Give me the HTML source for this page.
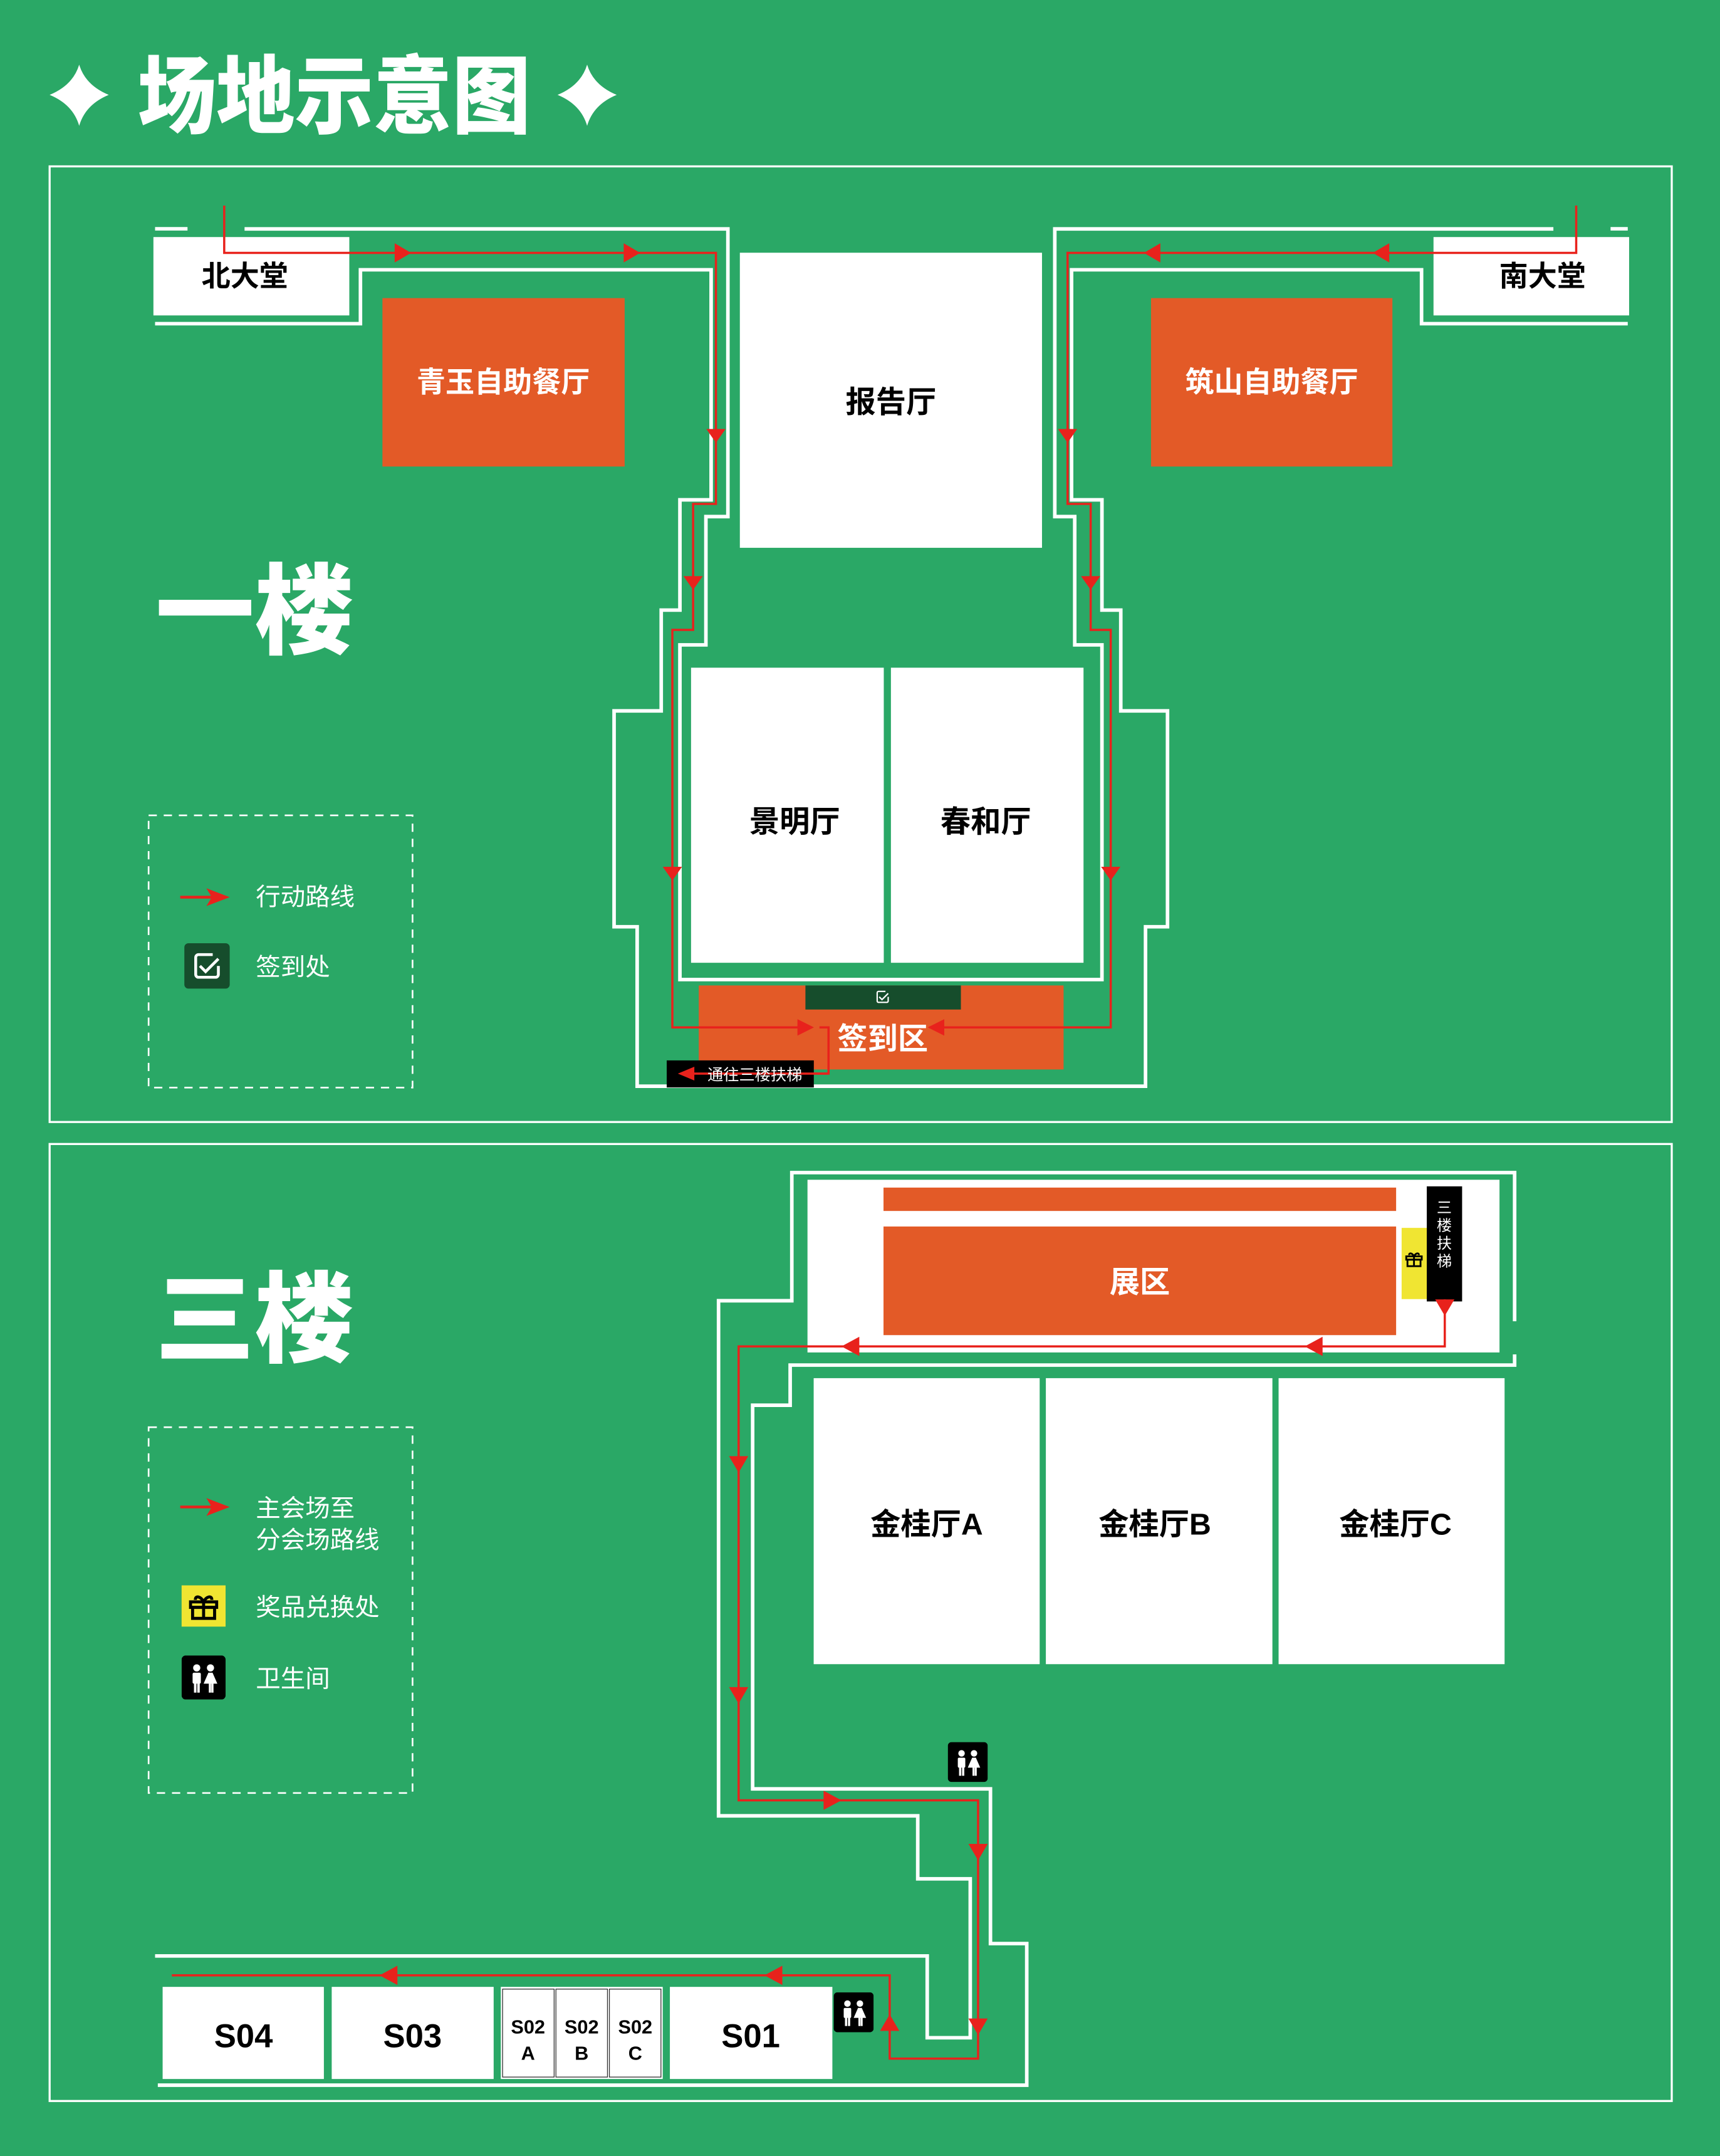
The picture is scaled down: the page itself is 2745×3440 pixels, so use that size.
<!DOCTYPE html>
<html><head><meta charset="utf-8">
<style>
html,body{margin:0;padding:0;background:#2aa866;}
svg{display:block;}
text{font-family:"Liberation Sans","Noto Sans CJK SC",sans-serif;}
.b{font-weight:700;}
</style></head>
<body>
<svg width="2745" height="3440" viewBox="0 0 1251 1568" xmlns="http://www.w3.org/2000/svg">
<defs>
<symbol id="wc" viewBox="0 0 32 32">
<rect x="0" y="0" width="32" height="32" rx="3" fill="#000"/>
<circle cx="11" cy="9" r="2.6" fill="#fff"/>
<rect x="8" y="12.5" width="6" height="8" rx="1" fill="#fff"/>
<rect x="9" y="19" width="1.8" height="8" fill="#fff"/><rect x="11.4" y="19" width="1.8" height="8" fill="#fff"/>
<circle cx="21" cy="9" r="2.6" fill="#fff"/>
<path d="M19.5 12.5 h3 l3.5 8 h-10 z" fill="#fff"/>
<rect x="19.8" y="20" width="1.6" height="7" fill="#fff"/><rect x="21.6" y="20" width="1.6" height="7" fill="#fff"/>
</symbol>
<symbol id="gift" viewBox="0 0 32 32">
<g fill="none" stroke="#000" stroke-width="2.2">
<rect x="6.5" y="13" width="19" height="4"/>
<rect x="8" y="17" width="16" height="8"/>
<line x1="16" y1="13" x2="16" y2="25"/>
<path d="M16 13 c-2-4-6-5-6-1.5 M16 13 c2-4 6-5 6-1.5"/>
</g>
</symbol>
<symbol id="chk" viewBox="0 0 32 32">
<path d="M20 8 H10 a2 2 0 0 0 -2 2 V22 a2 2 0 0 0 2 2 H22 a2 2 0 0 0 2 -2 V16" fill="none" stroke="#fff" stroke-width="2"/>
<path d="M11 16 l4 4 l9 -9" fill="none" stroke="#fff" stroke-width="2"/>
</symbol>
</defs>

<rect width="1251" height="1568" fill="#2aa866"/>

<!-- Title -->
<path d="M57.5 47 Q62 62 79 69 Q62 76 57.5 91.5 Q53 76 36 69 Q53 62 57.5 47Z" fill="#fff"/>
<path d="M427 47 Q431.5 62 448.5 69 Q431.5 76 427 91.5 Q422.5 76 405.5 69 Q422.5 62 427 47Z" fill="#fff"/>
<text x="100" y="92" font-size="62" class="b" fill="#fff" textLength="286" lengthAdjust="spacingAndGlyphs" style="font-weight:900">场地示意图</text>

<!-- Frames -->
<rect x="36" y="121" width="1180" height="695" fill="none" stroke="#fff" stroke-width="1.5"/>
<rect x="36" y="832" width="1180" height="696" fill="none" stroke="#fff" stroke-width="1.5"/>

<!-- ===== FLOOR 1 ===== -->
<text x="113" y="470" font-size="72" class="b" fill="#fff" style="font-weight:900">一楼</text>

<rect x="111.5" y="172.4" width="142.5" height="57" fill="#fff"/>
<text x="178" y="208" font-size="21" class="b" text-anchor="middle" fill="#000">北大堂</text>
<rect x="1042.7" y="172.4" width="142.3" height="57" fill="#fff"/>
<text x="1122" y="208" font-size="21" class="b" text-anchor="middle" fill="#000">南大堂</text>
<rect x="278.1" y="216.8" width="176.2" height="122.5" fill="#e35a27"/>
<text x="366" y="285" font-size="21" class="b" text-anchor="middle" fill="#fff">青玉自助餐厅</text>
<rect x="837.2" y="216.8" width="175.6" height="122.5" fill="#e35a27"/>
<text x="925" y="285" font-size="21" class="b" text-anchor="middle" fill="#fff">筑山自助餐厅</text>
<rect x="538.1" y="183.8" width="219.8" height="214.6" fill="#fff"/>
<text x="648" y="300" font-size="22" class="b" text-anchor="middle" fill="#000">报告厅</text>
<rect x="502.6" y="485.6" width="140.2" height="214.6" fill="#fff"/>
<text x="578" y="605" font-size="22" class="b" text-anchor="middle" fill="#000">景明厅</text>
<rect x="648" y="485.6" width="140.1" height="214.6" fill="#fff"/>
<text x="717" y="605" font-size="22" class="b" text-anchor="middle" fill="#000">春和厅</text>
<rect x="508.2" y="716.7" width="265.4" height="61.1" fill="#e35a27"/>
<rect x="585.8" y="716.7" width="113.1" height="17.5" fill="#164d2c"/>
<use href="#chk" x="634" y="717" width="16" height="16"/>
<text x="642" y="763" font-size="22" class="b" text-anchor="middle" fill="#fff">签到区</text>

<g fill="none" stroke="#fff" stroke-width="2.6">
<line x1="112.7" y1="166.4" x2="136.3" y2="166.4"/>
<line x1="1171.5" y1="166.4" x2="1184" y2="166.4"/>
<polyline points="177.8,166.5 529.4,166.5 529.4,375.7 513.4,375.7 513.4,469 494.5,469 494.5,712.4 801.5,712.4 801.5,469 781.7,469 781.7,375.7 767.2,375.7 767.2,166.5 1129.9,166.5"/>
<polyline points="112.7,235.4 262.1,235.4 262.1,196.2 517.2,196.2 517.2,363.5 494.5,363.5 494.5,443.7 480.9,443.7 480.9,517 446.6,517 446.6,674 463.4,674 463.4,790 833.2,790 833.2,674 849.2,674 849.2,517 815.2,517 815.2,443.7 801.5,443.7 801.5,363.5 779.4,363.5 779.4,196.2 1034,196.2 1034,235.4 1184,235.4"/>
</g>

<g fill="none" stroke="#e8221c" stroke-width="1.6">
<polyline points="163,149.5 163,183.9 520.7,183.9 520.7,366.5 504.1,366.5 504.1,458.1 489,458.1 489,747.2 590,747.2"/>
<polyline points="1146.5,149.5 1146.5,183.9 776.5,183.9 776.5,366.5 793.3,366.5 793.3,458.1 807.9,458.1 807.9,747.2 676,747.2"/>
<polyline points="596,747.2 602.6,747.2 602.6,780.8 496,780.8"/>
</g>
<g fill="#e8221c">
<path d="M299,183.9 l-12,-7 v14z"/><path d="M465.6,183.9 l-12,-7 v14z"/>
<path d="M832,183.9 l12,-7 v14z"/><path d="M998.5,183.9 l12,-7 v14z"/>
<path d="M520.7,322 l-7,-10 h14z"/><path d="M504.1,429 l-7,-10 h14z"/><path d="M489,640.4 l-7,-10 h14z"/>
<path d="M776.5,322 l-7,-10 h14z"/><path d="M793.3,429 l-7,-10 h14z"/><path d="M807.9,640.4 l-7,-10 h14z"/>
<path d="M592,747.2 l-12,-6 v12z"/><path d="M674.8,747.2 l12,-6 v12z"/>
</g>
<rect x="484.9" y="771.2" width="107" height="19.7" fill="#000"/>
<line x1="502" y1="780.8" x2="602" y2="780.8" stroke="#e8221c" stroke-width="1.6"/>
<path d="M493,780.8 l12,-5 v10z" fill="#e8221c"/>
<text x="549" y="785.5" font-size="11.5" text-anchor="middle" fill="#fff">通往三楼扶梯</text>

<rect x="108" y="593" width="192" height="198" fill="none" stroke="#fff" stroke-width="1.2" stroke-dasharray="6,5"/>
<line x1="131" y1="652.5" x2="155" y2="652.5" stroke="#e8221c" stroke-width="2"/>
<path d="M167,652.5 l-17,-6.5 4,6.5 -4,6.5z" fill="#e8221c"/>
<text x="186" y="658.5" font-size="18" fill="#fff">行动路线</text>
<rect x="134" y="686" width="33" height="33" rx="3" fill="#164d2c"/>
<use href="#chk" x="134" y="686" width="33" height="33"/>
<text x="186" y="709.5" font-size="18" fill="#fff">签到处</text>

<!-- ===== FLOOR 3 ===== -->
<text x="113" y="985" font-size="72" class="b" fill="#fff" style="font-weight:900">三楼</text>

<rect x="587.3" y="858" width="503.4" height="125.6" fill="#fff"/>
<rect x="642.6" y="863.7" width="372.9" height="17" fill="#e35a27"/>
<rect x="642.6" y="892" width="372.9" height="79" fill="#e35a27"/>
<text x="829" y="940" font-size="22" class="b" text-anchor="middle" fill="#fff">展区</text>
<rect x="1019.5" y="893" width="18.3" height="51.8" fill="#f0e532"/>
<use href="#gift" x="1019" y="906" width="19" height="19"/>
<rect x="1037.8" y="862.8" width="25.7" height="83.7" fill="#000"/>
<text font-size="11" fill="#fff" text-anchor="middle"><tspan x="1050.5" y="882">三</tspan><tspan x="1050.5" y="895">楼</tspan><tspan x="1050.5" y="908">扶</tspan><tspan x="1050.5" y="921">梯</tspan></text>

<rect x="591.8" y="1002.3" width="164.4" height="208" fill="#fff"/>
<rect x="760.7" y="1002.3" width="164.8" height="208" fill="#fff"/>
<rect x="930" y="1002.3" width="164.4" height="208" fill="#fff"/>
<text x="674" y="1116" font-size="22" class="b" text-anchor="middle" fill="#000">金桂厅A</text>
<text x="840" y="1116" font-size="22" class="b" text-anchor="middle" fill="#000">金桂厅B</text>
<text x="1015" y="1116" font-size="22" class="b" text-anchor="middle" fill="#000">金桂厅C</text>

<rect x="118.2" y="1445" width="117.3" height="67" fill="#fff"/>
<text x="177" y="1489" font-size="24" class="b" text-anchor="middle" fill="#000">S04</text>
<rect x="241.2" y="1445" width="117.8" height="67" fill="#fff"/>
<text x="300" y="1489" font-size="24" class="b" text-anchor="middle" fill="#000">S03</text>
<rect x="364.2" y="1445" width="117.8" height="67" fill="#fff"/>
<g fill="#fff" stroke="#333" stroke-width="0.6">
<rect x="365.5" y="1446.6" width="37.5" height="64"/>
<rect x="404.3" y="1446.6" width="37.5" height="64"/>
<rect x="443.2" y="1446.6" width="37.5" height="64"/>
</g>
<g font-size="14" class="b" text-anchor="middle" fill="#000">
<text x="384" y="1479">S02</text><text x="384" y="1498">A</text>
<text x="423" y="1479">S02</text><text x="423" y="1498">B</text>
<text x="462" y="1479">S02</text><text x="462" y="1498">C</text>
</g>
<rect x="487.2" y="1445" width="118.2" height="67" fill="#fff"/>
<text x="546" y="1489" font-size="24" class="b" text-anchor="middle" fill="#000">S01</text>

<use href="#wc" x="689.4" y="1267" width="29" height="29"/>
<use href="#wc" x="606.4" y="1449" width="29" height="29"/>

<g fill="none" stroke="#fff" stroke-width="2.6">
<polyline points="1101.7,960.9 1101.7,852.8 575.9,852.8 575.9,946 522.6,946 522.6,1320.6 667.5,1320.6 667.5,1366.4 705.7,1366.4 705.7,1482 674.4,1482 674.4,1422.5 112.7,1422.5"/>
<polyline points="1101.7,985 1101.7,992.8 574.7,992.8 574.7,1022 547.4,1022 547.4,1301 720.4,1301 720.4,1413.5 746.8,1413.5 746.8,1516.5 114.7,1516.5"/>
</g>
<g fill="none" stroke="#e8221c" stroke-width="1.6">
<polyline points="1050.9,945 1050.9,979.2 537.2,979.2 537.2,1309.3 711.4,1309.3 711.4,1497.2 647.1,1497.2 647.1,1436.6 124.9,1436.6"/>
</g>
<g fill="#e8221c">
<path d="M1050.9,957 l-7,-12 h14z"/>
<path d="M949,979.2 l13,-7 v14z"/><path d="M612,979.2 l13,-7 v14z"/>
<path d="M537.2,1071 l-7,-12 h14z"/><path d="M537.2,1239 l-7,-12 h14z"/>
<path d="M612,1309.3 l-13,-7 v14z"/>
<path d="M711.4,1353 l-7,-12 h14z"/><path d="M711.4,1480 l-7,-12 h14z"/>
<path d="M647.1,1465 l-7,12 h14z"/>
<path d="M556,1436.6 l13,-7 v14z"/><path d="M276,1436.6 l13,-7 v14z"/>
</g>

<rect x="108" y="1038" width="192" height="266" fill="none" stroke="#fff" stroke-width="1.2" stroke-dasharray="6,5"/>
<line x1="131" y1="1096" x2="155" y2="1096" stroke="#e8221c" stroke-width="2"/>
<path d="M167,1096 l-17,-6.5 4,6.5 -4,6.5z" fill="#e8221c"/>
<text x="186" y="1103" font-size="18" fill="#fff">主会场至</text>
<text x="186" y="1126" font-size="18" fill="#fff">分会场路线</text>
<rect x="132" y="1153" width="32" height="30" fill="#f0e532"/>
<use href="#gift" x="132" y="1152" width="32" height="32"/>
<text x="186" y="1175" font-size="18" fill="#fff">奖品兑换处</text>
<use href="#wc" x="132" y="1204" width="32" height="32"/>
<text x="186" y="1227" font-size="18" fill="#fff">卫生间</text>
</svg>
</body></html>
